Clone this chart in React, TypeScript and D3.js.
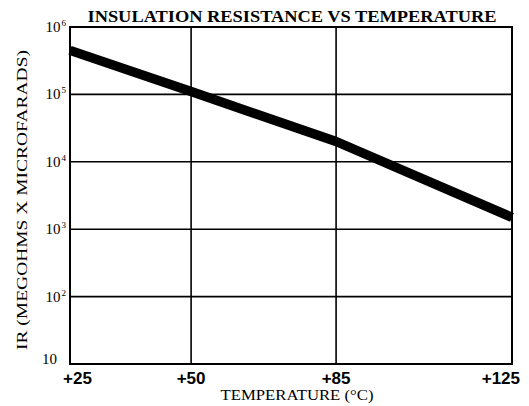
import React from "react";
import * as d3 from "d3";

const temps = [25, 50, 85, 125];
const tempLabels = ["+25", "+50", "+85", "+125"];
const irValues = [4.5e5, 1.1e5, 2e4, 1.5e3];
const yTicks = [10, 1e2, 1e3, 1e4, 1e5, 1e6];
const yExponents = ["", "2", "3", "4", "5", "6"];

const W = 529;
const H = 406;
const margin = { top: 27, right: 17, bottom: 42, left: 70 };
const serif = "'Liberation Serif', 'Times New Roman', serif";
const sans = "'Liberation Sans', Arial, sans-serif";

export default function App() {
  const innerW = W - margin.left - margin.right;
  const innerH = H - margin.top - margin.bottom;

  // the printed chart spaces the temperature lines unevenly
  const x = d3
    .scaleLinear()
    .domain(temps)
    .range([0, 0.274, 0.602, 1].map((f) => f * innerW));
  const y = d3.scaleLog().domain([10, 1e6]).range([innerH, 0]);

  const line = d3
    .line<number>()
    .x((d, i) => x(temps[i]))
    .y((d) => y(d));

  return (
    <svg
      width={W}
      height={H}
      style={{ position: "absolute", left: 0, top: 0, background: "white" }}
    >
      <text
        x={292}
        y={22}
        textAnchor="middle"
        fontFamily={serif}
        fontWeight="bold"
        fontSize={16}
        textLength={409}
        lengthAdjust="spacingAndGlyphs"
      >
        INSULATION RESISTANCE VS TEMPERATURE
      </text>
      <g transform={`translate(${margin.left},${margin.top})`}>
        {yTicks.slice(1, -1).map((t) => (
          <line
            key={"h" + t}
            x1={0}
            x2={innerW}
            y1={y(t)}
            y2={y(t)}
            stroke="black"
            strokeWidth={1.6}
          />
        ))}
        {temps.slice(1, -1).map((t) => (
          <line
            key={"v" + t}
            x1={x(t)}
            x2={x(t)}
            y1={0}
            y2={innerH}
            stroke="black"
            strokeWidth={1.6}
          />
        ))}
        <rect
          x={0}
          y={0}
          width={innerW}
          height={innerH}
          fill="none"
          stroke="black"
          strokeWidth={2}
        />
        <path
          d={line(irValues) || ""}
          fill="none"
          stroke="black"
          strokeWidth={9.5}
          strokeLinejoin="round"
        />
        {yTicks.map((t, i) => (
          <text
            key={"yl" + t}
            x={i === 0 ? -13 : -4}
            y={y(t)}
            dy={i === 0 ? 0 : 5}
            textAnchor="end"
            fontFamily={serif}
            fontSize={15}
          >
            10
            {yExponents[i] && (
              <tspan dx={1} dy={-6} fontSize={9}>
                {yExponents[i]}
              </tspan>
            )}
          </text>
        ))}
        {temps.map((t, i) => (
          <text
            key={"xl" + t}
            x={x(t) + (i === 0 ? -7 : i === temps.length - 1 ? 8 : 0)}
            y={innerH + 20}
            textAnchor={i === 0 ? "start" : i === temps.length - 1 ? "end" : "middle"}
            fontFamily={sans}
            fontWeight="bold"
            fontSize={17}
          >
            {tempLabels[i]}
          </text>
        ))}
        <text
          x={227}
          y={innerH + 36}
          textAnchor="middle"
          fontFamily={serif}
          fontSize={14}
          textLength={153}
          lengthAdjust="spacingAndGlyphs"
        >
          TEMPERATURE (°C)
        </text>
      </g>
      <text
        transform="translate(27,200) rotate(-90)"
        textAnchor="middle"
        fontFamily={serif}
        fontSize={15}
        textLength={300}
        lengthAdjust="spacingAndGlyphs"
      >
        IR (MEGOHMS X MICROFARADS)
      </text>
    </svg>
  );
}
